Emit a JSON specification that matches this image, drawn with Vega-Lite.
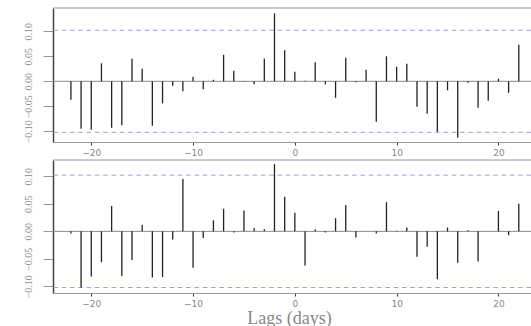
{
  "$schema": "https://vega.github.io/schema/vega-lite/v6.json",
  "background": "white",
  "padding": {"left": 5, "top": 7, "right": 0, "bottom": 0},
  "bounds": "flush",
  "spacing": 18,
  "config": {"view": {"stroke": null}, "axis": {"grid": false, "labelOverlap": false}},
  "datasets": {
    "top": [
      {"lag": -22, "acf": -0.037}, {"lag": -21, "acf": -0.095}, {"lag": -20, "acf": -0.097},
      {"lag": -19, "acf": 0.036}, {"lag": -18, "acf": -0.093}, {"lag": -17, "acf": -0.088},
      {"lag": -16, "acf": 0.045}, {"lag": -15, "acf": 0.025}, {"lag": -14, "acf": -0.089},
      {"lag": -13, "acf": -0.044}, {"lag": -12, "acf": -0.009}, {"lag": -11, "acf": -0.020},
      {"lag": -10, "acf": 0.009}, {"lag": -9, "acf": -0.016}, {"lag": -8, "acf": 0.003},
      {"lag": -7, "acf": 0.053}, {"lag": -6, "acf": 0.021}, {"lag": -5, "acf": -0.001},
      {"lag": -4, "acf": -0.006}, {"lag": -3, "acf": 0.045}, {"lag": -2, "acf": 0.136},
      {"lag": -1, "acf": 0.062}, {"lag": 0, "acf": 0.019}, {"lag": 1, "acf": 0.001},
      {"lag": 2, "acf": 0.038}, {"lag": 3, "acf": -0.006}, {"lag": 4, "acf": -0.033},
      {"lag": 5, "acf": 0.047}, {"lag": 6, "acf": -0.002}, {"lag": 7, "acf": 0.023},
      {"lag": 8, "acf": -0.081}, {"lag": 9, "acf": 0.050}, {"lag": 10, "acf": 0.029},
      {"lag": 11, "acf": 0.035}, {"lag": 12, "acf": -0.051}, {"lag": 13, "acf": -0.065},
      {"lag": 14, "acf": -0.101}, {"lag": 15, "acf": -0.018}, {"lag": 16, "acf": -0.113},
      {"lag": 17, "acf": -0.003}, {"lag": 18, "acf": -0.053}, {"lag": 19, "acf": -0.039},
      {"lag": 20, "acf": 0.005}, {"lag": 21, "acf": -0.023}, {"lag": 22, "acf": 0.073}
    ],
    "bottom": [
      {"lag": -22, "acf": -0.004}, {"lag": -21, "acf": -0.102}, {"lag": -20, "acf": -0.082},
      {"lag": -19, "acf": -0.056}, {"lag": -18, "acf": 0.046}, {"lag": -17, "acf": -0.081},
      {"lag": -16, "acf": -0.052}, {"lag": -15, "acf": 0.012}, {"lag": -14, "acf": -0.084},
      {"lag": -13, "acf": -0.083}, {"lag": -12, "acf": -0.015}, {"lag": -11, "acf": 0.095},
      {"lag": -10, "acf": -0.066}, {"lag": -9, "acf": -0.012}, {"lag": -8, "acf": 0.020},
      {"lag": -7, "acf": 0.041}, {"lag": -6, "acf": -0.002}, {"lag": -5, "acf": 0.038},
      {"lag": -4, "acf": 0.006}, {"lag": -3, "acf": 0.004}, {"lag": -2, "acf": 0.122},
      {"lag": -1, "acf": 0.063}, {"lag": 0, "acf": 0.034}, {"lag": 1, "acf": -0.062},
      {"lag": 2, "acf": 0.004}, {"lag": 3, "acf": -0.002}, {"lag": 4, "acf": 0.024},
      {"lag": 5, "acf": 0.048}, {"lag": 6, "acf": -0.011}, {"lag": 7, "acf": 0.000},
      {"lag": 8, "acf": -0.004}, {"lag": 9, "acf": 0.053}, {"lag": 10, "acf": 0.001},
      {"lag": 11, "acf": 0.007}, {"lag": 12, "acf": -0.046}, {"lag": 13, "acf": -0.028},
      {"lag": 14, "acf": -0.087}, {"lag": 15, "acf": 0.007}, {"lag": 16, "acf": -0.057},
      {"lag": 17, "acf": 0.002}, {"lag": 18, "acf": -0.055}, {"lag": 19, "acf": 0.000},
      {"lag": 20, "acf": 0.037}, {"lag": 21, "acf": -0.007}, {"lag": 22, "acf": 0.050}
    ],
    "ci": [{"ci": 0.102}, {"ci": -0.102}],
    "ref": [{"ref": 0}]
  },
  "vconcat": [
    {
      "width": 478,
      "height": 134,
      "layer": [
        {
          "data": {"name": "ref"},
          "mark": {"type": "rule", "color": "#999999", "strokeWidth": 1},
          "encoding": {"y": {"datum": 0.1466}}
        },
        {
          "data": {"name": "ci"},
          "mark": {"type": "rule", "color": "#9d9df5", "strokeWidth": 1, "strokeDash": [4.5, 3.8]},
          "encoding": {"y": {"field": "ci", "type": "quantitative"}}
        },
        {
          "data": {"name": "ref"},
          "mark": {"type": "rule", "color": "#8a8a8a", "strokeWidth": 1},
          "encoding": {"y": {"field": "ref", "type": "quantitative"}}
        },
        {
          "data": {"name": "top"},
          "mark": {"type": "rule", "color": "#222222", "strokeWidth": 1.3},
          "encoding": {
            "x": {"field": "lag", "type": "quantitative",
              "scale": {"domain": [-23.76, 23.2], "nice": false, "zero": false},
              "axis": {"values": [-20, -10, 0, 10, 20], "tickCount": 20, "format": "d", "title": null,
                "domainColor": "#999999", "tickColor": "#333333", "tickSize": 3,
                "labelFont": "DejaVu Sans", "labelFontSize": 9, "labelColor": "#888888",
                "labelPadding": 3, "labelOverlap": false, "minExtent": 13, "maxExtent": 13}},
            "y": {"field": "acf", "type": "quantitative",
              "scale": {"domain": [-0.1214, 0.1466], "nice": false, "zero": false},
              "axis": {"values": [-0.1, -0.05, 0, 0.05, 0.1], "tickCount": 10, "format": ".2f", "title": null,
                "domainColor": "#444444", "domainWidth": 1.5, "tickColor": "#999999", "tickSize": 10,
                "labelAngle": 270, "labelAlign": "center", "labelBaseline": "bottom", "labelPadding": 10,
                "labelOverlap": false, "labelFlush": false,
                "labelFont": "Liberation Sans Narrow", "labelFontSize": 10, "labelColor": "#888888",
                "minExtent": 48, "maxExtent": 48}},
            "y2": {"datum": 0}
          }
        }
      ]
    },
    {
      "width": 478,
      "height": 133,
      "layer": [
        {
          "data": {"name": "ref"},
          "mark": {"type": "rule", "color": "#999999", "strokeWidth": 1},
          "encoding": {"y": {"datum": 0.1296}}
        },
        {
          "data": {"name": "ci"},
          "mark": {"type": "rule", "color": "#9d9df5", "strokeWidth": 1, "strokeDash": [4.5, 3.8]},
          "encoding": {"y": {"field": "ci", "type": "quantitative"}}
        },
        {
          "data": {"name": "ref"},
          "mark": {"type": "rule", "color": "#8a8a8a", "strokeWidth": 1},
          "encoding": {"y": {"field": "ref", "type": "quantitative"}}
        },
        {
          "data": {"name": "bottom"},
          "mark": {"type": "rule", "color": "#222222", "strokeWidth": 1.3},
          "encoding": {
            "x": {"field": "lag", "type": "quantitative",
              "scale": {"domain": [-23.76, 23.2], "nice": false, "zero": false},
              "axis": {"values": [-20, -10, 0, 10, 20], "tickCount": 20, "format": "d", "title": "Lags (days)",
                "domainColor": "#999999", "tickColor": "#333333", "tickSize": 3,
                "labelFont": "DejaVu Sans", "labelFontSize": 9, "labelColor": "#888888",
                "labelPadding": 3, "labelOverlap": false,
                "titleFont": "Liberation Serif", "titleFontSize": 18, "titleFontWeight": "normal",
                "titleColor": "#888888", "titleBaseline": "alphabetic", "titleX": 236, "titleY": 30,
                "minExtent": 33, "maxExtent": 33}},
            "y": {"field": "acf", "type": "quantitative",
              "scale": {"domain": [-0.112, 0.1296], "nice": false, "zero": false},
              "axis": {"values": [-0.1, -0.05, 0, 0.05, 0.1], "tickCount": 10, "format": ".2f", "title": null,
                "domainColor": "#444444", "domainWidth": 1.5, "tickColor": "#999999", "tickSize": 10,
                "labelAngle": 270, "labelAlign": "center", "labelBaseline": "bottom", "labelPadding": 10,
                "labelOverlap": false, "labelFlush": false,
                "labelFont": "Liberation Sans Narrow", "labelFontSize": 10, "labelColor": "#888888",
                "minExtent": 48, "maxExtent": 48}},
            "y2": {"datum": 0}
          }
        }
      ]
    }
  ]
}
